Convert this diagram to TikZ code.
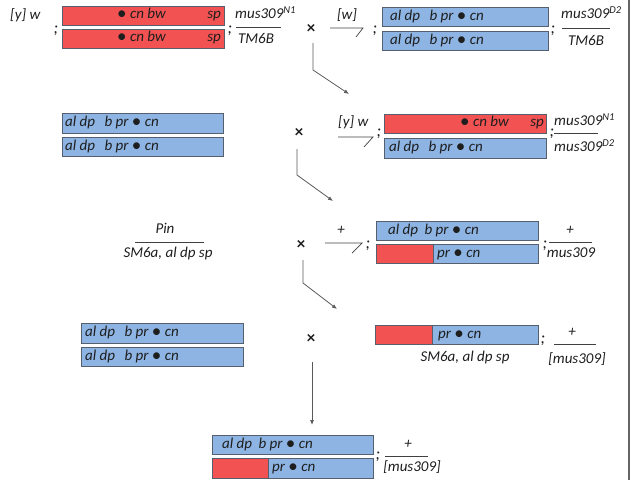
\documentclass[tikz,border=0pt]{standalone}
\usepackage{fontspec}
\setmainfont{Carlito}
\usetikzlibrary{arrows.meta}
\definecolor{redbar}{RGB}{242,82,82}
\definecolor{bluebar}{RGB}{141,180,226}
\definecolor{barline}{RGB}{85,95,110}
\definecolor{ink}{RGB}{30,30,30}
\newcommand{\gdot}{\raisebox{-1.2pt}{\fontsize{19}{19}\selectfont\upshape •}}
\newcommand{\supx}[1]{\raisebox{4.5pt}{\fontsize{10.5}{10.5}\selectfont #1}}
\begin{document}
\begin{tikzpicture}[x=1pt,y=-1pt,
  gtxt/.style={inner sep=0pt, font=\fontsize{15}{15}\selectfont\itshape, text=ink, text height=10pt, text depth=3.5pt},
  semi/.style={inner sep=0pt, font=\fontsize{17}{17}\selectfont\itshape, text=ink},
  crossmk/.style={inner sep=0pt, font=\fontsize{17}{17}\selectfont\bfseries, text=ink},
  redb/.style={draw=barline, fill=redbar, line width=0.8pt, inner sep=0pt, anchor=north west},
  blueb/.style={draw=barline, fill=bluebar, line width=0.8pt, inner sep=0pt, anchor=north west},
  fracl/.style={draw=black!75, line width=0.7pt},
  flow/.style={draw=black!65, line width=0.8pt, -{Latex[length=5pt,width=4pt]}},
  edge/.style={draw=black!60, line width=1.4pt}
]
\useasboundingbox (0,0) rectangle (636,480);
\coordinate (e1) at (629,0); \coordinate (e2) at (629,480);
\draw[edge] (e1) -- (e2);

% ---------- Row 1 ----------
\node[gtxt, anchor=west] (yw1) at (10,16) {[y] w};
\node[semi] (s1) at (56,31) {;};
\node[redb, minimum width=162pt, minimum height=19pt] (r1a) at (62,6) {};
\node[redb, minimum width=162pt, minimum height=19pt] (r1b) at (62,29) {};
\node[gtxt, anchor=west] (r1at) at (117,15.5) {\gdot\ cn bw};
\node[gtxt, anchor=east] (r1as) at (221,15.5) {sp};
\node[gtxt, anchor=west] (r1bt) at (117,38.5) {\gdot\ cn bw};
\node[gtxt, anchor=east] (r1bs) at (221,38.5) {sp};
\node[semi] (s2) at (230,31) {;};
\node[gtxt, anchor=west] (n1) at (235,15) {mus309\supx{N1}};
\coordinate (f1a) at (236,27); \coordinate (f1b) at (281,27);
\draw[fracl] (f1a) -- (f1b);
\node[gtxt] (d1) at (256,40) {TM6B};
\node[crossmk] (x1) at (311,29) {×};
\node[gtxt] (w1) at (347,16) {[w]};
\coordinate (h1a) at (330,28); \coordinate (h1b) at (363,28); \coordinate (h1c) at (356,37);
\draw[fracl] (h1a) -- (h1b) -- (h1c);
\node[semi] (s3) at (375,31) {;};
\node[blueb, minimum width=166pt, minimum height=19pt] (b1a) at (382,7) {};
\node[blueb, minimum width=166pt, minimum height=19pt] (b1b) at (382,31) {};
\node[gtxt, anchor=west] at ([xshift=8pt]b1a.west) {al dp\hspace{6pt} b pr \gdot\ cn};
\node[gtxt, anchor=west] at ([xshift=8pt]b1b.west) {al dp\hspace{6pt} b pr \gdot\ cn};
\node[semi] (s4) at (553,31) {;};
\node[gtxt, anchor=west] (n2) at (561,15) {mus309\supx{D2}};
\coordinate (f2a) at (562,28); \coordinate (f2b) at (610,28);
\draw[fracl] (f2a) -- (f2b);
\node[gtxt] (d2) at (586,42) {TM6B};

% ---------- Row 2 ----------
\node[blueb, minimum width=161pt, minimum height=20pt] (b2a) at (62,113) {};
\node[blueb, minimum width=161pt, minimum height=19pt] (b2b) at (62,137) {};
\node[gtxt, anchor=west] at ([xshift=3pt]b2a.west) {al dp\hspace{6pt} b pr \gdot\ cn};
\node[gtxt, anchor=west] at ([xshift=3pt]b2b.west) {al dp\hspace{6pt} b pr \gdot\ cn};
\node[crossmk] (x2) at (299,133) {×};
\node[gtxt, anchor=west] (yw2) at (338,123) {[y] w};
\coordinate (h2a) at (338,137); \coordinate (h2b) at (373,137); \coordinate (h2c) at (364,147);
\draw[fracl] (h2a) -- (h2b) -- (h2c);
\node[semi] (s5) at (379,134) {;};
\node[redb, minimum width=162pt, minimum height=19pt] (r2a) at (384,114) {};
\node[blueb, minimum width=162pt, minimum height=20pt] (b2c) at (384,138) {};
\node[gtxt, anchor=west] at (460,123.5) {\gdot\ cn bw};
\node[gtxt, anchor=east] at (544,123.5) {sp};
\node[gtxt, anchor=west] at ([xshift=5pt]b2c.west) {al dp\hspace{6pt} b pr \gdot\ cn};
\node[semi] (s6) at (552,134) {;};
\node[gtxt, anchor=west] (n3) at (554,122) {mus309\supx{N1}};
\coordinate (f3a) at (554,133); \coordinate (f3b) at (598,133);
\draw[fracl] (f3a) -- (f3b);
\node[gtxt, anchor=west] (n4) at (554,148) {mus309\supx{D2}};

% ---------- Row 3 ----------
\node[gtxt] (pin) at (165,230) {Pin};
\coordinate (f4a) at (135,242); \coordinate (f4b) at (204,242);
\draw[fracl] (f4a) -- (f4b);
\node[gtxt] (sm1) at (168,254) {SM6a, al dp sp};
\node[crossmk] (x3) at (301,245) {×};
\node[gtxt] (pl1) at (341,231) {+};
\coordinate (h3a) at (325,243); \coordinate (h3b) at (362,243); \coordinate (h3c) at (352,253);
\draw[fracl] (h3a) -- (h3b) -- (h3c);
\node[semi] (s7) at (368,246) {;};
\node[blueb, minimum width=162pt, minimum height=19pt] (b3a) at (376,221) {};
\node[redb, minimum width=57pt, minimum height=19pt] (r3b) at (376,244) {};
\node[blueb, minimum width=105pt, minimum height=19pt] (b3b) at (433,244) {};
\node[gtxt, anchor=west] at ([xshift=12pt]b3a.west) {al dp\hspace{3pt} b pr \gdot\ cn};
\node[gtxt, anchor=west] at ([xshift=4pt]b3b.west) {pr \gdot\ cn};
\node[semi] (s8) at (545,246) {;};
\node[gtxt] (pl2) at (570,231) {+};
\coordinate (f5a) at (549,242); \coordinate (f5b) at (592,242);
\draw[fracl] (f5a) -- (f5b);
\node[gtxt] (m1) at (571,254) {mus309};

% ---------- Row 4 ----------
\node[blueb, minimum width=162pt, minimum height=20pt] (b4a) at (81,323) {};
\node[blueb, minimum width=162pt, minimum height=19pt] (b4b) at (81,347) {};
\node[gtxt, anchor=west] at ([xshift=4pt]b4a.west) {al dp\hspace{6pt} b pr \gdot\ cn};
\node[gtxt, anchor=west] at ([xshift=4pt]b4b.west) {al dp\hspace{6pt} b pr \gdot\ cn};
\node[crossmk] (x4) at (311,339) {×};
\node[redb, minimum width=57pt, minimum height=19pt] (r4) at (375,325) {};
\node[blueb, minimum width=106pt, minimum height=19pt] (b4c) at (432,325) {};
\node[gtxt, anchor=west] at ([xshift=6pt]b4c.west) {pr \gdot\ cn};
\node[gtxt] (sm2) at (465,358) {SM6a, al dp sp};
\node[semi] (s9) at (543,341) {;};
\node[gtxt] (pl3) at (572,333) {+};
\coordinate (f6a) at (554,344); \coordinate (f6b) at (596,344);
\draw[fracl] (f6a) -- (f6b);
\node[gtxt] (m2) at (577,360) {[mus309]};

% ---------- Row 5 ----------
\node[blueb, minimum width=161pt, minimum height=19pt] (b5a) at (212,435) {};
\node[redb, minimum width=56pt, minimum height=20pt] (r5) at (212,458) {};
\node[blueb, minimum width=105pt, minimum height=20pt] (b5b) at (268,458) {};
\node[gtxt, anchor=west] at ([xshift=10pt]b5a.west) {al dp\hspace{3pt} b pr \gdot\ cn};
\node[gtxt, anchor=west] at ([xshift=4pt]b5b.west) {pr \gdot\ cn};
\node[semi] (s10) at (378,457) {;};
\node[gtxt] (pl4) at (408,445) {+};
\coordinate (f7a) at (385,456); \coordinate (f7b) at (428,456);
\draw[fracl] (f7a) -- (f7b);
\node[gtxt] (m3) at (412,468) {[mus309]};

% ---------- Flow arrows ----------
\coordinate (a1s) at (313,43); \coordinate (a1m) at (313,70); \coordinate (a1e) at (349,94);
\draw[flow] (a1s) -- (a1m) -- (a1e);
\coordinate (a2s) at (297,149); \coordinate (a2m) at (297,175); \coordinate (a2e) at (333,201);
\draw[flow] (a2s) -- (a2m) -- (a2e);
\coordinate (a3s) at (303,260); \coordinate (a3m) at (303,283); \coordinate (a3e) at (337,309);
\draw[flow] (a3s) -- (a3m) -- (a3e);
\coordinate (a4s) at (312,362); \coordinate (a4e) at (312,425);
\draw[flow] (a4s) -- (a4e);
\end{tikzpicture}
\end{document}
